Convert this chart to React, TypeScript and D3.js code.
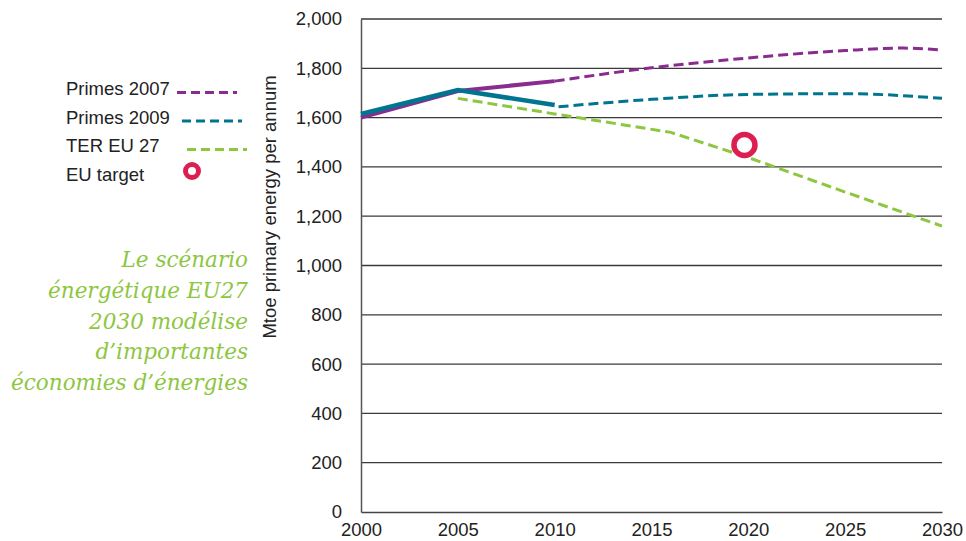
import React, { useRef, useEffect } from 'react';
import * as d3 from 'd3';

const { select, scaleLinear, line, axisLeft, axisBottom, curveMonotoneX } = d3;

type Pt = { year: number; value: number };

// Primes 2007 — historical (solid) and projection (dashed)
const primes2007Hist: Pt[] = [
  { year: 2000, value: 1600 },
  { year: 2005, value: 1708 },
  { year: 2010, value: 1748 },
];
const primes2007Proj: Pt[] = [
  { year: 2010, value: 1748 },
  { year: 2015, value: 1802 },
  { year: 2020, value: 1842 },
  { year: 2025, value: 1872 },
  { year: 2028, value: 1882 },
  { year: 2030, value: 1874 },
];

// Primes 2009
const primes2009Hist: Pt[] = [
  { year: 2000, value: 1615 },
  { year: 2005, value: 1712 },
  { year: 2010, value: 1651 },
];
const primes2009Proj: Pt[] = [
  { year: 2010.2, value: 1644 },
  { year: 2015, value: 1674 },
  { year: 2020, value: 1694 },
  { year: 2025, value: 1697 },
  { year: 2030, value: 1678 },
];

// TER EU 27
const terEu27: Pt[] = [
  { year: 2005, value: 1678 },
  { year: 2010, value: 1615 },
  { year: 2016, value: 1540 },
  { year: 2020, value: 1438 },
  { year: 2025, value: 1298 },
  { year: 2030, value: 1160 },
];

const euTarget: Pt = { year: 2019.8, value: 1489 };

const yearTicks = [2000, 2005, 2010, 2015, 2020, 2025, 2030];
const valueTicks = [0, 200, 400, 600, 800, 1000, 1200, 1400, 1600, 1800, 2000];

const legendItems = ['Primes 2007', 'Primes 2009', 'TER EU 27', 'EU target'];
const noteLines = [
  'Le scénario',
  'énergétique EU27',
  '2030 modélise',
  'd’importantes',
  'économies d’énergies',
];

const PURPLE = '#8a2b8f';
const BLUE = '#00758f';
const GREEN = '#8dc63f';
const RED = '#dc1f50';
const SANS = 'Liberation Sans, Arial, sans-serif';
const FS = 18.5;

export default function App() {
  const ref = useRef<SVGSVGElement>(null);

  useEffect(() => {
    if (!ref.current) return;
    const svg = select(ref.current);
    svg.selectAll('*').remove();

    const left = 361;
    const right = 942;
    const top = 19;
    const bottom = 512;

    const x = scaleLinear().domain([2000, 2030]).range([left, right]);
    const y = scaleLinear().domain([0, 2000]).range([bottom, top]);

    // grid lines
    svg
      .append('g')
      .selectAll('line')
      .data(valueTicks.filter(v => v > 0))
      .enter()
      .append('line')
      .attr('x1', left)
      .attr('x2', right)
      .attr('y1', d => y(d))
      .attr('y2', d => y(d))
      .attr('stroke', '#3a3a3a')
      .attr('stroke-width', 1.3);

    const yAxis = svg
      .append('g')
      .attr('transform', `translate(${left},0)`)
      .call(
        axisLeft(y)
          .tickValues(valueTicks)
          .tickSize(0)
          .tickPadding(19)
          .tickFormat(d3.format(','))
      );
    yAxis.select('.domain').attr('stroke', '#555').attr('stroke-width', 1.5);
    yAxis
      .selectAll('text')
      .attr('font-family', SANS)
      .attr('font-size', FS)
      .attr('fill', '#222');

    const xAxis = svg
      .append('g')
      .attr('transform', `translate(0,${bottom})`)
      .call(
        axisBottom(x)
          .tickValues(yearTicks)
          .tickSize(0)
          .tickPadding(10.5)
          .tickFormat(d3.format('d'))
      );
    xAxis.select('.domain').attr('stroke', '#444').attr('stroke-width', 1.5);
    xAxis
      .selectAll('text')
      .attr('font-family', SANS)
      .attr('font-size', FS)
      .attr('fill', '#222');

    svg
      .append('text')
      .attr('transform', `translate(275.5,207) rotate(-90)`)
      .attr('text-anchor', 'middle')
      .attr('font-family', SANS)
      .attr('font-size', FS)
      .attr('fill', '#222')
      .text('Mtoe primary energy per annum');

    const lineGen = line<Pt>()
      .x(d => x(d.year))
      .y(d => y(d.value));
    const curveGen = line<Pt>()
      .x(d => x(d.year))
      .y(d => y(d.value))
      .curve(curveMonotoneX);

    const dashed = (data: Pt[], color: string, gen = curveGen) =>
      svg
        .append('path')
        .attr('d', gen(data) as string)
        .attr('fill', 'none')
        .attr('stroke', color)
        .attr('stroke-width', 3)
        .attr('stroke-dasharray', '10,5');

    dashed(terEu27, GREEN, lineGen);
    dashed(primes2009Proj, BLUE);
    dashed(primes2007Proj, PURPLE);

    svg
      .append('path')
      .attr('d', lineGen(primes2007Hist) as string)
      .attr('fill', 'none')
      .attr('stroke', PURPLE)
      .attr('stroke-width', 4);
    svg
      .append('path')
      .attr('d', lineGen(primes2009Hist) as string)
      .attr('fill', 'none')
      .attr('stroke', BLUE)
      .attr('stroke-width', 4.6);

    svg
      .append('circle')
      .attr('cx', x(euTarget.year))
      .attr('cy', y(euTarget.value))
      .attr('r', 10.5)
      .attr('fill', '#fff')
      .attr('stroke', RED)
      .attr('stroke-width', 5.5);

    // legend
    const legendColors = [PURPLE, BLUE, GREEN];
    const legendStarts = [177, 182, 187];
    const lg = svg.append('g');
    legendItems.forEach((name, i) => {
      const ly = 95 + i * 28.5;
      lg.append('text')
        .attr('x', 66)
        .attr('y', ly)
        .attr('font-family', SANS)
        .attr('font-size', FS)
        .attr('fill', '#222')
        .text(name);
      if (i < 3) {
        lg.append('line')
          .attr('x1', legendStarts[i])
          .attr('x2', legendStarts[i] + 60)
          .attr('y1', ly - 2.5)
          .attr('y2', ly - 2.5)
          .attr('stroke', legendColors[i])
          .attr('stroke-width', 3)
          .attr('stroke-dasharray', '9,5');
      } else {
        lg.append('circle')
          .attr('cx', 192)
          .attr('cy', ly - 9.5)
          .attr('r', 6.5)
          .attr('fill', '#fff')
          .attr('stroke', RED)
          .attr('stroke-width', 5);
      }
    });

    // italic note
    svg
      .append('g')
      .selectAll('text')
      .data(noteLines)
      .enter()
      .append('text')
      .attr('x', 248)
      .attr('y', (_, i) => 267 + i * 30.8)
      .attr('text-anchor', 'end')
      .attr('font-family', 'DejaVu Serif, Liberation Serif, serif')
      .attr('font-style', 'italic')
      .attr('font-size', 21.5)
      .attr('fill', GREEN)
      .text(d => d);
  }, []);

  return (
    <svg
      ref={ref}
      width={966}
      height={541}
      style={{ position: 'absolute', left: 0, top: 0, background: '#fff' }}
    />
  );
}
